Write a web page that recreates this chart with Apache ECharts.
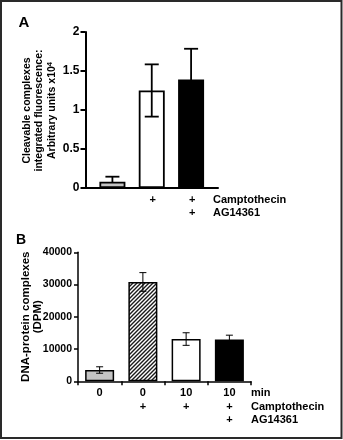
<!DOCTYPE html>
<html>
<head>
<meta charset="utf-8">
<script src="https://cdn.jsdelivr.net/npm/echarts@6/dist/echarts.min.js"></script>
<style>
  html, body { margin: 0; padding: 0; background: #fff; }
  #chart { width: 343px; height: 440px; }
</style>
</head>
<body>
<div id="chart"></div>
<script>
// Panel A: cleavable complexes, integrated fluorescence (arbitrary units x10^4)
const aPositions = [0, 1, 2];
const aMeans = [0.08, 1.25, 1.39];
const aErrors = [0.065, 0.335, 0.395];
const aCamptothecin = ['', '+', '+'];
const aAG14361 = ['', '', '+'];
const aTicks = [0, 0.5, 1, 1.5, 2];

// Panel B: DNA-protein complexes (DPM)
const bMinutes = ['0', '0', '10', '10'];
const bCamptothecin = ['', '+', '+', '+'];
const bAG14361 = ['', '', '', '+'];
const bMeans = [3500, 30800, 13100, 13000];
const bErrors = [1000, 2900, 1950, 1300];
const bTicks = [0, 10000, 20000, 30000, 40000];

const FONT = '"Liberation Sans", Arial, sans-serif';
const INK = '#000';

// diagonal hatch fill used for the camptothecin-only bar
function hatchPattern() {
  const c = document.createElement('canvas');
  c.width = 4; c.height = 4;
  const g = c.getContext('2d');
  g.fillStyle = '#fff';
  g.fillRect(0, 0, 4, 4);
  g.strokeStyle = '#1a1a1a';
  g.lineWidth = 1.4;
  g.beginPath();
  g.moveTo(-1, 5); g.lineTo(5, -1);
  g.moveTo(-1, 1); g.lineTo(1, -1);
  g.moveTo(3, 5); g.lineTo(5, 3);
  g.stroke();
  return { image: c, repeat: 'repeat' };
}

const aFills = ['#c4c4c4', 'rgba(255,255,255,0)', '#000'];
const bFills = ['#c4c4c4', hatchPattern(), '#fff', '#000'];

function errorBars(capHalf, width, xs, means, errs) {
  return function (params, api) {
    const i = params.dataIndex;
    const x = xs[i];
    const hi = api.coord([x, means[i] + errs[i]]);
    const lo = api.coord([x, means[i] - errs[i]]);
    const st = { stroke: INK, lineWidth: width, fill: null };
    return {
      type: 'group',
      children: [
        { type: 'line', shape: { x1: hi[0], y1: hi[1], x2: lo[0], y2: lo[1] }, style: st },
        { type: 'line', shape: { x1: hi[0] - capHalf, y1: hi[1], x2: hi[0] + capHalf, y2: hi[1] }, style: st },
        { type: 'line', shape: { x1: lo[0] - capHalf, y1: lo[1], x2: lo[0] + capHalf, y2: lo[1] }, style: st }
      ]
    };
  };
}

const txt = (size) => ({ fontFamily: FONT, fontWeight: 'bold', fontSize: size, color: INK });

const chart = echarts.init(document.getElementById('chart'), null, { renderer: 'canvas' });

chart.setOption({
  animation: false,
  backgroundColor: '#fff',
  grid: [
    { left: 85.5, top: 32, width: 132.5, height: 156 },
    { left: 78, top: 252.3, width: 173, height: 129 }
  ],
  xAxis: [
    {
      gridIndex: 0, type: 'value', min: -0.684, max: 2.684,
      axisLine: { show: true, onZero: false, lineStyle: { color: INK, width: 2 } },
      axisTick: { show: false }, axisLabel: { show: false }, splitLine: { show: false }
    },
    {
      gridIndex: 1, type: 'category', data: bMinutes,
      axisLine: { lineStyle: { color: INK, width: 1.5 } },
      axisTick: { show: true, length: 4, lineStyle: { color: INK, width: 1.5 } },
      axisLabel: {
        margin: 5,
        formatter: (v, i) => [bMinutes[i], bCamptothecin[i] || ' ', bAG14361[i] || ' '].join('\n'),
        lineHeight: 13.5, ...txt(11)
      }
    }
  ],
  yAxis: [
    {
      gridIndex: 0, type: 'value', min: aTicks[0], max: aTicks[aTicks.length - 1], interval: 0.5,
      axisLine: { show: true, onZero: false, lineStyle: { color: INK, width: 2 } },
      axisTick: { show: true, length: 5, lineStyle: { color: INK, width: 2 } },
      axisLabel: { margin: 6, formatter: (v) => String(v), ...txt(12) },
      splitLine: { show: false }
    },
    {
      gridIndex: 1, type: 'value', min: bTicks[0], max: bTicks[bTicks.length - 1], interval: 10000,
      axisLine: { show: true, onZero: false, lineStyle: { color: INK, width: 1.5 } },
      axisTick: { show: true, length: 4, lineStyle: { color: INK, width: 1.5 } },
      axisLabel: { margin: 6, formatter: (v) => String(v), ...txt(10.5) },
      splitLine: { show: false }
    }
  ],
  series: [
    // A: whiskers sit behind the bars
    {
      type: 'custom', xAxisIndex: 0, yAxisIndex: 0, z: 1,
      data: aPositions.map((p, i) => [p, aMeans[i]]),
      renderItem: errorBars(7, 1.8, aPositions, aMeans, aErrors)
    },
    {
      type: 'bar', xAxisIndex: 0, yAxisIndex: 0, z: 2, barWidth: 26,
      data: aPositions.map((p, i) => ({
        value: [p, aMeans[i]],
        itemStyle: { color: aFills[i], borderColor: INK, borderWidth: 1.8 }
      }))
    },
    // A: treatment rows under the axis
    {
      type: 'custom', xAxisIndex: 0, yAxisIndex: 0, z: 3,
      data: aPositions.map((p) => [p, 0]),
      renderItem: function (params, api) {
        const i = params.dataIndex;
        const pt = api.coord([aPositions[i], 0]);
        const base = { align: 'center', verticalAlign: 'middle', font: 'bold 11px ' + FONT, fill: INK };
        return {
          type: 'group',
          children: [
            { type: 'text', x: pt[0] + 1, y: pt[1] + 12, style: { ...base, text: aCamptothecin[i] } },
            { type: 'text', x: pt[0] + 1, y: pt[1] + 25, style: { ...base, text: aAG14361[i] } }
          ]
        };
      }
    },
    // B: bars, whiskers on top
    {
      type: 'bar', xAxisIndex: 1, yAxisIndex: 1, z: 2, barWidth: 29,
      data: bMeans.map((m, i) => ({
        value: m,
        itemStyle: { color: bFills[i], borderColor: INK, borderWidth: 1.5 }
      }))
    },
    {
      type: 'custom', xAxisIndex: 1, yAxisIndex: 1, z: 3,
      data: bMeans.map((m, i) => [i, m]),
      renderItem: errorBars(3.5, 1, bMeans.map((m, i) => i), bMeans, bErrors)
    }
  ],
  graphic: [
    { type: 'rect', shape: { x: 1, y: 1, width: 340.5, height: 437 },
      style: { fill: null, stroke: '#2a2a2a', lineWidth: 2 } },
    { type: 'text', x: 24, y: 23, style: { text: 'A', font: 'bold 15px ' + FONT, fill: INK, align: 'center', verticalAlign: 'middle' } },
    { type: 'text', x: 21, y: 240, style: { text: 'B', font: 'bold 14px ' + FONT, fill: INK, align: 'center', verticalAlign: 'middle' } },
    {
      type: 'text', x: 39.5, y: 110.5, rotation: Math.PI / 2,
      style: {
        text: 'Cleavable complexes\nintegrated fluorescence:\nArbitrary units x10{sup|4}',
        font: 'bold 10.5px ' + FONT, fill: INK, align: 'center', verticalAlign: 'middle', lineHeight: 12.7,
        rich: { sup: { fontSize: 7.5, fontWeight: 'bold', fontFamily: FONT, verticalAlign: 'top', lineHeight: 12.7, padding: [0, 0, 4, 0] } }
      }
    },
    {
      type: 'text', x: 32, y: 316.7, rotation: Math.PI / 2,
      style: {
        text: 'DNA-protein complexes\n(DPM)',
        font: 'bold 11.5px ' + FONT, fill: INK, align: 'center', verticalAlign: 'middle', lineHeight: 11.8
      }
    },
    { type: 'text', x: 213, y: 200, style: { text: 'Camptothecin', font: 'bold 11px ' + FONT, fill: INK, verticalAlign: 'middle' } },
    { type: 'text', x: 213, y: 213, style: { text: 'AG14361', font: 'bold 11px ' + FONT, fill: INK, verticalAlign: 'middle' } },
    { type: 'text', x: 251, y: 393, style: { text: 'min', font: 'bold 11px ' + FONT, fill: INK, verticalAlign: 'middle' } },
    { type: 'text', x: 251, y: 407, style: { text: 'Camptothecin', font: 'bold 11px ' + FONT, fill: INK, verticalAlign: 'middle' } },
    { type: 'text', x: 251, y: 420, style: { text: 'AG14361', font: 'bold 11px ' + FONT, fill: INK, verticalAlign: 'middle' } }
  ]
});
</script>
</body>
</html>
